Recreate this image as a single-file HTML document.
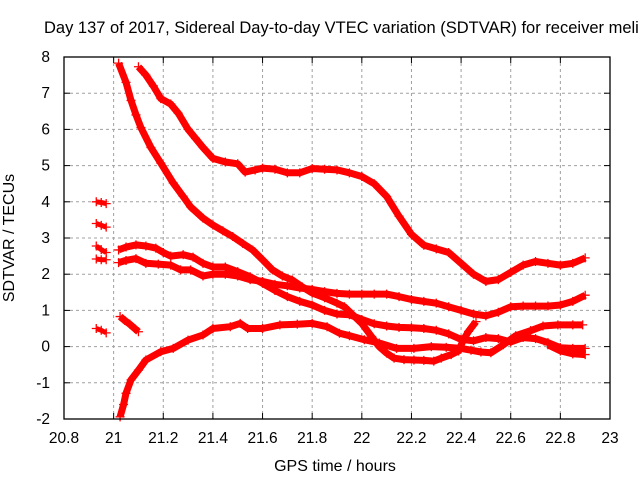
<!DOCTYPE html>
<html><head><meta charset="utf-8"><style>
html,body{margin:0;padding:0;background:#fff;}
svg{display:block;font-family:"Liberation Sans",sans-serif;}
</style></head><body>
<svg id="chart" width="640" height="480" viewBox="0 0 640 480" xmlns="http://www.w3.org/2000/svg">
<rect x="0" y="0" width="640" height="480" fill="#fff"/>
<text x="44" y="33" font-size="16.5" fill="#000">Day 137 of 2017, Sidereal Day-to-day VTEC variation (SDTVAR) for receiver meli</text>
<g id="grid"></g>
<g id="series"></g>
<g id="axes"></g>
<text x="335" y="471" font-size="16" text-anchor="middle" fill="#000">GPS time / hours</text>
<text transform="translate(14,238) rotate(-90)" font-size="16" text-anchor="middle" fill="#000">SDTVAR / TECUs</text>
</svg>
<script>
var xTicks=[20.8,21,21.2,21.4,21.6,21.8,22,22.2,22.4,22.6,22.8,23];
var yTicks=[-2,-1,0,1,2,3,4,5,6,7,8];
var xTickLabels=["20.8","21","21.2","21.4","21.6","21.8","22","22.2","22.4","22.6","22.8","23"];
var yTickLabels=["-2","-1","0","1","2","3","4","5","6","7","8"];

var aX=[21.1,21.13,21.16,21.19,21.23,21.26,21.3,21.33,21.36,21.4,21.45,21.5,21.53,21.57,21.6,21.65,21.7,21.75,21.8,21.85,21.9,21.95,22.0,22.05,22.1,22.15,22.2,22.25,22.3,22.35,22.4,22.45,22.5,22.55,22.6,22.65,22.7,22.75,22.8,22.85,22.9];
var aY=[7.73,7.5,7.2,6.85,6.7,6.45,6.0,5.75,5.5,5.2,5.1,5.05,4.82,4.88,4.93,4.9,4.8,4.8,4.92,4.9,4.88,4.8,4.7,4.5,4.15,3.6,3.1,2.8,2.7,2.6,2.3,2.0,1.8,1.85,2.05,2.25,2.35,2.3,2.25,2.3,2.45];
var bX=[21.02,21.05,21.07,21.09,21.11,21.15,21.19,21.24,21.28,21.31,21.36,21.4,21.44,21.48,21.52,21.56,21.6,21.64,21.68,21.72,21.76,21.8,21.85,21.9,21.93,21.96,22.0,22.04,22.07,22.1,22.13,22.17,22.21,22.25,22.29,22.32,22.36,22.39,22.41,22.43,22.46];
var bY=[7.83,7.3,6.8,6.4,6.05,5.5,5.07,4.52,4.15,3.86,3.55,3.36,3.2,3.04,2.85,2.67,2.4,2.12,1.95,1.84,1.65,1.48,1.35,1.2,1.1,0.9,0.64,0.27,0.0,-0.18,-0.32,-0.36,-0.37,-0.38,-0.4,-0.32,-0.22,-0.12,0.2,0.42,0.69];
var cX=[21.02,21.05,21.09,21.13,21.17,21.2,21.23,21.28,21.32,21.36,21.4,21.45,21.5,21.55,21.6,21.65,21.7,21.75,21.8,21.85,21.9,21.95,22.0,22.05,22.1,22.15,22.2,22.25,22.3,22.35,22.4,22.45,22.5,22.55,22.6,22.65,22.7,22.75,22.8,22.85,22.9];
var cY=[2.67,2.75,2.81,2.78,2.72,2.6,2.5,2.54,2.47,2.3,2.2,2.2,2.07,1.93,1.75,1.55,1.38,1.25,1.15,1.0,0.9,0.88,0.75,0.63,0.57,0.53,0.52,0.5,0.45,0.35,0.2,0.16,0.25,0.22,0.13,0.25,0.22,0.11,-0.03,-0.05,-0.05];
var dX=[21.02,21.05,21.09,21.13,21.18,21.23,21.27,21.31,21.36,21.4,21.45,21.5,21.55,21.6,21.65,21.7,21.75,21.8,21.85,21.9,21.95,22.0,22.05,22.1,22.15,22.2,22.25,22.3,22.35,22.4,22.45,22.5,22.55,22.6,22.65,22.7,22.75,22.8,22.85,22.9];
var dY=[2.32,2.38,2.43,2.3,2.28,2.25,2.12,2.12,1.95,2.0,2.0,1.95,1.85,1.8,1.72,1.68,1.62,1.58,1.52,1.47,1.45,1.45,1.45,1.45,1.38,1.3,1.25,1.2,1.1,1.0,0.9,0.85,0.95,1.1,1.12,1.12,1.12,1.15,1.25,1.42];
var eX=[21.026,21.04,21.05,21.07,21.1,21.13,21.19,21.24,21.3,21.36,21.4,21.47,21.51,21.54,21.6,21.67,21.74,21.8,21.86,21.91,21.95,22.01,22.07,22.14,22.21,22.28,22.34,22.4,22.44,22.48,22.52,22.57,22.62,22.68,22.73,22.79,22.85,22.89];
var eY=[-1.94,-1.6,-1.29,-0.92,-0.65,-0.37,-0.14,-0.05,0.18,0.32,0.5,0.55,0.64,0.5,0.5,0.6,0.62,0.64,0.55,0.37,0.3,0.19,0.1,-0.05,-0.05,0.0,-0.02,-0.05,-0.1,-0.15,-0.17,0.05,0.3,0.44,0.57,0.6,0.6,0.6];
var fX=[22.75,22.8,22.85,22.9];
var fY=[0.05,-0.12,-0.2,-0.22];
var gX=[21.026,21.045,21.065,21.085,21.1];
var gY=[0.83,0.72,0.62,0.5,0.41];
var h1X=[20.93,20.95,20.97],h1Y=[4.0,3.98,3.95];
var h2X=[20.93,20.95,20.97],h2Y=[3.4,3.35,3.3];
var h3X=[20.93,20.95,20.97],h3Y=[2.78,2.68,2.6];
var h4X=[20.93,20.95,20.97],h4Y=[2.42,2.4,2.4];
var h5X=[20.93,20.95,20.97],h5Y=[0.5,0.45,0.38];

var L=64,R=610,T=57,B=419;
function sx(v){return L+(v-20.8)/(23-20.8)*(R-L);}
function sy(v){return B-(v+2)/10*(B-T);}
var NS="http://www.w3.org/2000/svg";
function mk(t,p,parent){var e=document.createElementNS(NS,t);for(var k in p)e.setAttribute(k,p[k]);parent.appendChild(e);return e;}
var grid=document.getElementById('grid'),axes=document.getElementById('axes'),ser=document.getElementById('series');
xTicks.forEach(function(v,i){
  var x=sx(v);
  if(i>0&&i<xTicks.length-1){var gl=mk('line',{x1:x,y1:T,x2:x,y2:B,stroke:'#a0a0a0','stroke-dasharray':'3,3','stroke-width':1},grid);
  
  }
  mk('line',{x1:x,y1:B,x2:x,y2:B-6,stroke:'#000'},axes);
  mk('line',{x1:x,y1:T,x2:x,y2:T+6,stroke:'#000'},axes);
  var t=mk('text',{x:x,y:443,'font-size':15.5,'text-anchor':'middle',fill:'#000'},axes);
  t.textContent=xTickLabels[i];
  
  
});
yTicks.forEach(function(v,i){
  var y=sy(v);
  if(i>0&&i<yTicks.length-1){var gl=mk('line',{x1:L,y1:y,x2:R,y2:y,stroke:'#a0a0a0','stroke-dasharray':'3,3','stroke-width':1},grid);
  
  }
  mk('line',{x1:L,y1:y,x2:L+6,y2:y,stroke:'#000'},axes);
  mk('line',{x1:R,y1:y,x2:R-6,y2:y,stroke:'#000'},axes);
  var t=mk('text',{x:50,y:y+5,'font-size':15.5,'text-anchor':'end',fill:'#000'},axes);
  t.textContent=yTickLabels[i];
  
  
});
var frame=mk('rect',{x:L,y:T,width:R-L,height:B-T,fill:'none',stroke:'#000','stroke-width':1.3},axes);


function drawSeries(xs,ys,name){
  var g=mk('g',{},ser);
  
  
  var pts=xs.map(function(v,i){return sx(v).toFixed(1)+','+sy(ys[i]).toFixed(1);}).join(' ');
  mk('polyline',{points:pts,fill:'none',stroke:'#ff0000','stroke-width':xs.length>3?7:5,'stroke-linejoin':'round','stroke-linecap':'butt'},g);
  xs.forEach(function(v,i){
    var x=sx(v),y=sy(ys[i]);
    mk('path',{d:'M'+(x-4.5)+' '+y+'H'+(x+4.5)+'M'+x+' '+(y-4.5)+'V'+(y+4.5),stroke:'#ff0000','stroke-width':1.3,fill:'none'},g);
  });
}
drawSeries(aX,aY,'series-a');
drawSeries(bX,bY,'series-b');
drawSeries(cX,cY,'series-c');
drawSeries(dX,dY,'series-d');
drawSeries(eX,eY,'series-e');
drawSeries(fX,fY,'series-f');
drawSeries(gX,gY,'series-g');
drawSeries(h1X,h1Y,'series-h1');
drawSeries(h2X,h2Y,'series-h2');
drawSeries(h3X,h3Y,'series-h3');
drawSeries(h4X,h4Y,'series-h4');
drawSeries(h5X,h5Y,'series-h5');
</script>
</body></html>
